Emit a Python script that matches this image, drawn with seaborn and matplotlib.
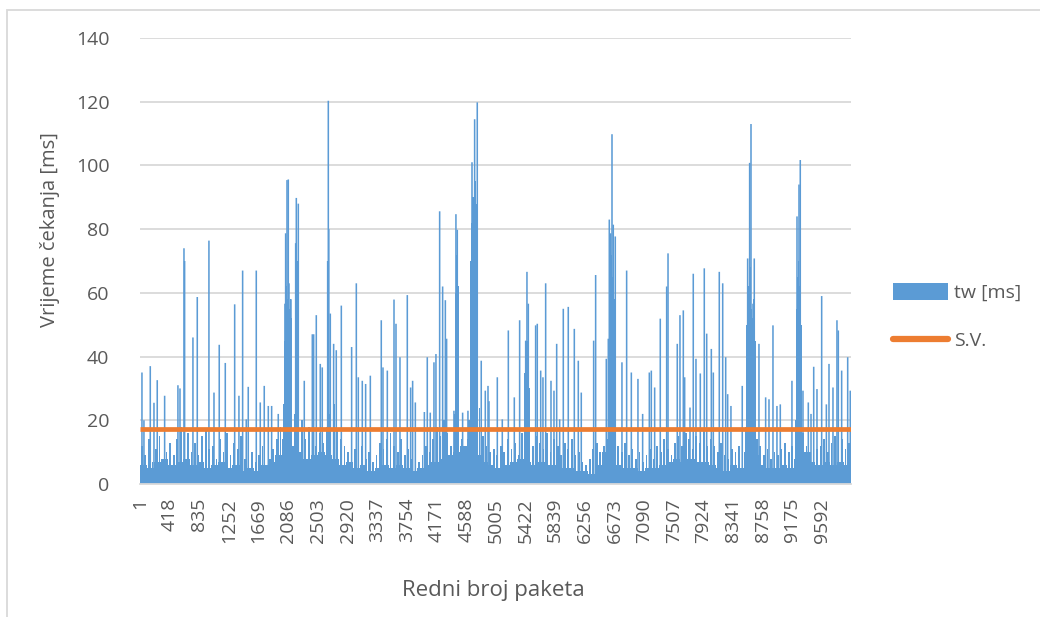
import numpy as np
import pandas as pd
import matplotlib
matplotlib.use("Agg")
import matplotlib.pyplot as plt
import seaborn as sns
from matplotlib.patches import Patch, Rectangle
from matplotlib.lines import Line2D

# broj paketa ukupno
n_packets = 10000

# donja, gotovo puna razina, po grupama od 100 paketa (procjena sa slike)
floor_step = 100
floor_tw = [
    6, 5, 7, 8, 6, 7, 8, 6, 7, 5,
    6, 7, 5, 6, 4, 5, 4, 6, 7, 9,
    14, 12, 10, 8, 9, 10, 9, 8, 6, 7,
    5, 6, 4, 5, 6, 5, 6, 5, 4, 5,
    6, 7, 8, 9, 10, 12, 14, 9, 7, 6,
    5, 6, 7, 8, 7, 6, 7, 6, 6, 5,
    5, 4, 4, 3, 6, 10, 9, 6, 5, 5,
    4, 5, 5, 6, 7, 8, 7, 8, 7, 7,
    6, 5, 4, 6, 5, 10, 9, 6, 5, 5,
    6, 5, 8, 10, 7, 6, 7, 6, 7, 6,
]
floor_pkt = np.arange(len(floor_tw)) * floor_step

# tanki stupci pozadine, po 50 paketa
base_step = 50
base_tw = [
    12, 9, 14, 7, 11, 15, 8, 10, 13, 9,
    14, 18, 12, 16, 10, 13, 9, 15, 17, 11,
    12, 8, 14, 10, 16, 9, 13, 11, 15, 8,
    13, 10, 7, 9, 12, 6, 8, 11, 14, 18,
    25, 28, 30, 22, 16, 20, 14, 18, 15, 12,
    16, 13, 18, 22, 25, 17, 14, 12, 10, 13,
    11, 9, 12, 8, 10, 7, 9, 13, 11, 14,
    16, 12, 10, 14, 9, 11, 8, 10, 7, 9,
    12, 10, 14, 18, 15, 20, 16, 12, 22, 25,
    14, 10, 20, 28, 30, 24, 15, 12, 10, 11,
    9, 12, 10, 14, 11, 13, 9, 16, 22, 14,
    12, 15, 13, 11, 16, 10, 14, 12, 9, 13,
    11, 14, 9, 10, 7, 6, 8, 11, 13, 10,
    12, 14, 25, 22, 12, 10, 13, 9, 11, 8,
    10, 7, 9, 11, 8, 12, 10, 14, 11, 9,
    13, 15, 12, 16, 14, 11, 15, 13, 17, 12,
    14, 12, 10, 13, 9, 8, 11, 10, 12, 14,
    18, 24, 20, 14, 12, 9, 11, 8, 10, 9,
    11, 13, 10, 12, 20, 24, 16, 12, 10, 13,
    11, 12, 14, 10, 13, 15, 12, 14, 11, 13,
]
base_pkt = np.arange(len(base_tw)) * base_step + base_step / 2

# gusti blokovi visokih vrijednosti (segmenti od ~15 paketa)
block_pkt = [
    2030, 2044, 2058, 2072, 2086, 2100, 2114, 2128,
    2180, 2195, 2210, 2225,
    4426, 4442, 4458, 4474,
    4646, 4661, 4676, 4691, 4706, 4721, 4736,
    5406, 5421, 5436, 5451, 5466,
    6592, 6607, 6622, 6637, 6652, 6667,
    8528, 8543, 8558, 8573, 8588, 8603, 8618, 8633, 8648,
    9222, 9237, 9252, 9267, 9282, 9297,
]
block_tw = [
    45, 57, 62, 58, 60, 55, 58, 52,
    55, 62, 70, 60,
    60, 72, 68, 62,
    70, 82, 90, 85, 95, 88, 80,
    35, 42, 45, 38, 30,
    60, 68, 72, 65, 62, 58,
    50, 58, 62, 68, 55, 52, 58, 50, 45,
    55, 65, 70, 62, 58, 50,
]

# pojedinacni vrhovi
peak_pkt = [
    28, 56, 145, 197, 243, 347, 534, 563, 619, 628, 745, 806, 970, 1041, 1115,
    1200, 1332, 1392, 1444, 1495, 1523, 1636,
    1692, 1748, 1805, 1852, 1945, 2039, 2049, 2068, 2086, 2096, 2124,
    2190, 2199, 2227, 2311, 2424, 2443, 2480, 2536, 2564, 2640, 2649, 2656,
    2677, 2724, 2761, 2832, 2977, 3043, 3071, 3127, 3174, 3240,
    3394, 3418, 3479, 3573, 3601, 3657, 3760, 3807, 3835, 3873,
    4000, 4041, 4083, 4135, 4163, 4215, 4257, 4295, 4313, 4416, 4444, 4463,
    4538, 4613, 4670, 4707, 4744, 4800, 4857, 4895,
    4909, 5026, 5096, 5181, 5265, 5340, 5425, 5443, 5462, 5565, 5588, 5636,
    5668, 5706, 5781, 5823, 5861, 5903, 5954, 6024, 6109, 6165, 6207, 6381,
    6409, 6559, 6587,
    6601, 6620, 6639, 6657, 6685, 6779, 6845, 6911, 7004, 7070, 7164, 7192,
    7239, 7318, 7408, 7427, 7557, 7595, 7642, 7661, 7736, 7782, 7820, 7881,
    7937, 7971, 8036, 8064, 8148, 8196,
    8238, 8266, 8312, 8471, 8547, 8575, 8594, 8622, 8640, 8706, 8800, 8847,
    8903, 8959, 9006, 9170, 9241, 9269, 9287, 9325, 9400, 9438, 9476, 9522,
    9588, 9654, 9691, 9747, 9803, 9822, 9869, 9954, 9990,
]
peak_tw = [
    35, 20, 37, 25.5, 32.6, 27.7, 31, 30, 74, 70, 46, 58.7, 76.4, 28.7, 43.7,
    38, 56.4, 27.7, 67, 20.3, 30.5, 67,
    25.6, 30.8, 24.5, 24.5, 22, 56.6, 78.7, 95.4, 95.6, 63, 58,
    75.6, 89.8, 88, 32.4, 47, 47, 53, 37.7, 36.6, 70, 120.3, 80,
    53.5, 44, 42, 56, 43, 63, 33.5, 32.4, 31.4, 34,
    51.4, 36.6, 35.6, 57.9, 50.3, 39.8, 59.3, 30.3, 32.4, 25.6,
    22.6, 39.8, 22.4, 38.2, 40.8, 85.6, 62, 57.7, 45.6, 23, 84.7, 79.8,
    22.4, 23, 101, 114.5, 119.8, 38.7, 29.3, 30.8,
    26, 33.5, 20.3, 48.2, 27.2, 51.4, 45, 66.6, 56.6, 49.8, 50.3, 35.6,
    33.5, 63, 32.4, 29.3, 44, 20.3, 55, 55.6, 48.7, 38.7, 28.7, 45,
    65.6, 39.3, 45.6,
    83, 78.7, 109.8, 81.4, 77.7, 38.2, 67, 35, 33, 22, 35, 35.6,
    30.3, 51.9, 62, 72.4, 44, 53, 54.5, 33.5, 24, 66, 39.3, 34.7,
    67.7, 47.2, 42.4, 35, 66.6, 63,
    39.8, 28.2, 24.5, 30.8, 70.8, 100.8, 113, 56.6, 70.8, 44, 27.2, 26.6,
    49.8, 24.5, 25, 32.4, 84, 94, 101.7, 29.3, 25.6, 22, 36.8, 29.8,
    59, 25, 37.7, 30.3, 51.4, 48.2, 35.6, 39.8, 29.3,
]

# srednja vrijednost
sv_pkt = [1, n_packets]
sv_tw = [17.4, 17.4]

tick_pkt = list(range(1, n_packets, 417))

blue = "#5B9BD5"
orange = "#ED7D31"
grey_txt = "#595959"
grid_c = "#D9D9D9"

sns.set_theme(style="white")
plt.rcParams["font.family"] = ["Open Sans", "DejaVu Sans"]

fig = plt.figure(figsize=(10.4, 6.17), dpi=100)
ax = fig.add_axes([140 / 1040, 1 - 484 / 617, 711 / 1040, 446 / 617])

ax.bar(floor_pkt, floor_tw, width=floor_step, align="edge", color=blue, linewidth=0)
ax.bar(base_pkt, base_tw, width=24, color=blue, linewidth=0)
ax.bar(block_pkt, block_tw, width=16, align="edge", color=blue, linewidth=0,
       antialiased=False)
ax.bar(peak_pkt, peak_tw, width=22, color=blue, linewidth=0, snap=False)

df_sv = pd.DataFrame({"paket": sv_pkt, "tw": sv_tw})
sns.lineplot(data=df_sv, x="paket", y="tw", ax=ax, color=orange, linewidth=3.4,
             solid_capstyle="butt")

ax.set_xlim(0.5, n_packets + 0.5)
ax.set_ylim(0, 140)
ax.set_yticks(range(0, 141, 20))
ax.set_xticks(tick_pkt)
ax.set_xticklabels([str(t) for t in tick_pkt], rotation=90)
ax.yaxis.grid(True, color=grid_c, linewidth=1.3)
ax.xaxis.grid(False)
ax.set_axisbelow(True)
for s in ["top", "right", "left"]:
    ax.spines[s].set_visible(False)
ax.spines["bottom"].set_color(grid_c)
ax.spines["bottom"].set_linewidth(1.3)
ax.tick_params(axis="both", length=0, labelsize=14, colors=grey_txt)
ax.tick_params(axis="y", pad=22)
ax.tick_params(axis="x", pad=10)

ax.set_xlabel("Redni broj paketa", fontsize=16, color=grey_txt)
ax.set_ylabel("Vrijeme čekanja [ms]", fontsize=14.5, color=grey_txt)
ax.xaxis.set_label_coords(353 / 711, (484 - 580) / 446)
ax.yaxis.set_label_coords((60 - 140) / 711, (484 - 230) / 446)

handles = [Patch(facecolor=blue, edgecolor="none"),
           Line2D([0], [0], color=orange, linewidth=4.5, solid_capstyle="round")]
leg = ax.legend(handles, ["tw [ms]", "S.V."], loc="center left",
                bbox_to_anchor=(1.035, 0.375), frameon=False, fontsize=14,
                handlelength=2.8, handleheight=0.9, labelspacing=1.5,
                handletextpad=0.3)
for t in leg.get_texts():
    t.set_color(grey_txt)

# okvir grafikona
fig.patches.append(Rectangle((7 / 1040, -0.1), 1.2, 1.1 - 9.5 / 617,
                             transform=fig.transFigure, fill=False,
                             edgecolor=grid_c, linewidth=1.3))

fig.savefig("out.png", dpi=100, facecolor="white")
